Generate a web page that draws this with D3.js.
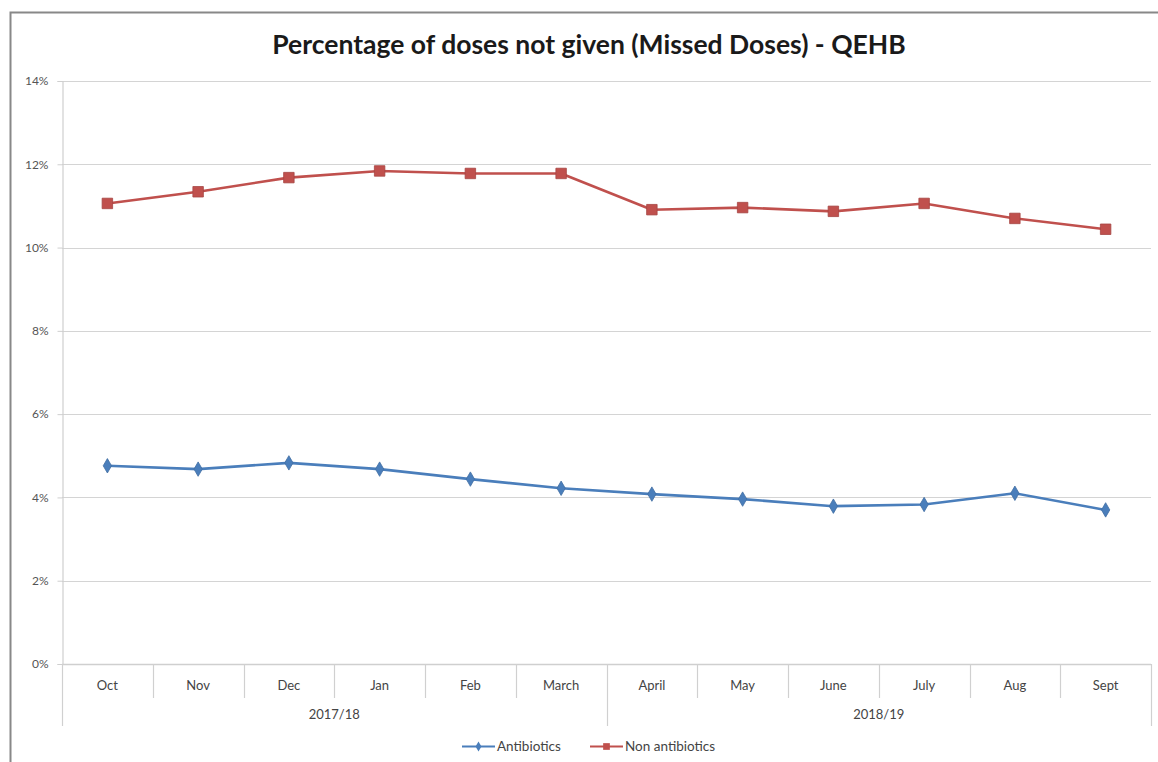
<!DOCTYPE html>
<html>
<head>
<meta charset="utf-8">
<script src="https://cdn.jsdelivr.net/npm/d3@7"></script>
<style>
  html, body { margin: 0; padding: 0; background: #ffffff; }
  svg { display: block; }
</style>
</head>
<body>
<svg id="chart" width="1158" height="762"></svg>
<script>
// Monthly missed-dose percentages, Oct 2017 – Sept 2019 financial years
const months = ["Oct", "Nov", "Dec", "Jan", "Feb", "March", "April", "May", "June", "July", "Aug", "Sept"];
const years = ["2017/18", "2018/19"];
const monthsPerYear = [6, 6];
const antibiotics = [4.76, 4.68, 4.83, 4.68, 4.44, 4.22, 4.08, 3.96, 3.79, 3.83, 4.10, 3.70];
const nonAntibiotics = [11.06, 11.34, 11.68, 11.84, 11.78, 11.78, 10.91, 10.96, 10.87, 11.06, 10.70, 10.44];
const yTicks = [0, 2, 4, 6, 8, 10, 12, 14];
const seriesNames = ["Antibiotics", "Non antibiotics"];

const svg = d3.select("#chart");
const W = 1158, H = 762;
const plot = { left: 62, right: 1151, top: 81, bottom: 664 };
const font = "Lato, 'Open Sans', sans-serif";

// Outer chart frame
svg.append("rect")
  .attr("x", 10.5).attr("y", 12.5)
  .attr("width", W + 20).attr("height", H + 20)
  .attr("fill", "#fff").attr("stroke", "#888").attr("stroke-width", 2);

// Title
svg.append("text")
  .attr("x", 589).attr("y", 54)
  .attr("text-anchor", "middle")
  .attr("font-family", font)
  .attr("font-weight", "bold")
  .attr("font-size", 26.5)
  .attr("fill", "#1a1a1a")
  .text("Percentage of doses not given (Missed Doses) - QEHB");

const x = d3.scaleBand().domain(months).range([plot.left, plot.right]).padding(0);
const y = d3.scaleLinear().domain([0, 14]).range([plot.bottom, plot.top]);
const cx = m => x(m) + x.bandwidth() / 2;

// Horizontal gridlines
svg.append("g")
  .selectAll("line")
  .data(yTicks.filter(t => t > 0))
  .join("line")
  .attr("x1", plot.left).attr("x2", plot.right)
  .attr("y1", d => Math.round(y(d)) + 0.5).attr("y2", d => Math.round(y(d)) + 0.5)
  .attr("stroke", "#d4d4d4").attr("stroke-width", 1.2);

// Y axis
const yAxis = d3.axisLeft(y)
  .tickValues(yTicks)
  .tickSize(5)
  .tickPadding(9)
  .tickFormat(d => d + "%");
const gy = svg.append("g")
  .attr("transform", `translate(${plot.left + 0.5},0)`)
  .call(yAxis);
gy.select(".domain").attr("stroke", "#cfcfcf").attr("stroke-width", 1.2);
gy.selectAll(".tick line").attr("stroke", "#cfcfcf");
gy.selectAll(".tick text")
  .attr("font-family", font)
  .attr("font-size", 12)
  .attr("fill", "#555");

// X axis baseline
svg.append("line")
  .attr("x1", plot.left).attr("x2", plot.right)
  .attr("y1", plot.bottom + 0.5).attr("y2", plot.bottom + 0.5)
  .attr("stroke", "#cfcfcf").attr("stroke-width", 1.5);

// Month dividers (short) and year dividers (long)
const boundaries = d3.range(months.length + 1);
const yearEdges = [0];
monthsPerYear.forEach((n, i) => yearEdges.push(yearEdges[i] + n));
svg.append("g")
  .selectAll("line")
  .data(boundaries)
  .join("line")
  .attr("x1", i => Math.round(plot.left + i * x.bandwidth()) + 0.5)
  .attr("x2", i => Math.round(plot.left + i * x.bandwidth()) + 0.5)
  .attr("y1", plot.bottom)
  .attr("y2", i => yearEdges.includes(i) ? 726 : 698)
  .attr("stroke", "#d0d0d0").attr("stroke-width", 1.2);

// Month labels
svg.append("g")
  .selectAll("text")
  .data(months)
  .join("text")
  .attr("x", m => cx(m))
  .attr("y", 690)
  .attr("text-anchor", "middle")
  .attr("font-family", font)
  .attr("font-size", 13)
  .attr("fill", "#444")
  .text(m => m);

// Financial-year labels
svg.append("g")
  .selectAll("text")
  .data(years)
  .join("text")
  .attr("x", (d, i) => plot.left + (yearEdges[i] + yearEdges[i + 1]) / 2 * x.bandwidth())
  .attr("y", 719)
  .attr("text-anchor", "middle")
  .attr("font-family", font)
  .attr("font-size", 13)
  .attr("fill", "#444")
  .text(d => d);

const blue = "#4a7ebb";
const red = "#c0504d";
const line = d3.line().x(d => cx(d.m)).y(d => y(d.v));

function drawSeries(values, color, marker) {
  const pts = months.map((m, i) => ({ m, v: values[i] }));
  svg.append("path")
    .datum(pts)
    .attr("d", line)
    .attr("fill", "none")
    .attr("stroke", color)
    .attr("stroke-width", 2.6)
    .attr("stroke-linejoin", "round");
  svg.append("g")
    .selectAll("path")
    .data(pts)
    .join("path")
    .attr("transform", d => `translate(${cx(d.m)},${y(d.v)})`)
    .attr("d", marker)
    .attr("fill", color)
    .attr("stroke", d3.color(color).darker(0.4))
    .attr("stroke-width", 0.8);
}

const diamond = d3.symbol().type(d3.symbolDiamond).size(60)();
const square = d3.symbol().type(d3.symbolSquare).size(110)();

drawSeries(antibiotics, blue, diamond);
drawSeries(nonAntibiotics, red, square);

// Legend
const legend = [
  { name: seriesNames[0], color: blue, marker: d3.symbol().type(d3.symbolDiamond).size(30)(), x: 462 },
  { name: seriesNames[1], color: red, marker: d3.symbol().type(d3.symbolSquare).size(45)(), x: 590 }
];
const lg = svg.append("g");
legend.forEach(l => {
  lg.append("line")
    .attr("x1", l.x).attr("x2", l.x + 33)
    .attr("y1", 746.5).attr("y2", 746.5)
    .attr("stroke", l.color).attr("stroke-width", 2);
  lg.append("path")
    .attr("transform", `translate(${l.x + 16.5},746.5)`)
    .attr("d", l.marker)
    .attr("fill", l.color);
  lg.append("text")
    .attr("x", l.x + 35)
    .attr("y", 751)
    .attr("font-family", font)
    .attr("font-size", 13.5)
    .attr("fill", "#444")
    .text(l.name);
});
</script>
</body>
</html>
